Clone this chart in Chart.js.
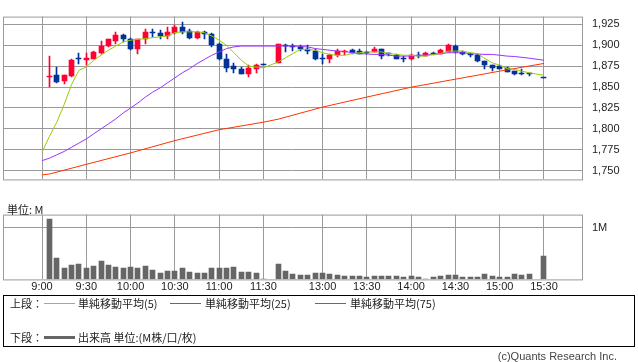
<!DOCTYPE html>
<html lang="ja">
<head>
<meta charset="utf-8">
<title>5分足チャート</title>
<script src="https://cdn.jsdelivr.net/npm/chart.js@4.4.1/dist/chart.umd.min.js"></script>
<style>
  html, body { margin: 0; padding: 0; background: #fff; }
  body { width: 638px; height: 362px; position: relative; overflow: hidden;
         font-family: "Noto Sans CJK JP", "Liberation Sans", sans-serif; font-size: 11px; color: #222; }
  #priceWrap { position: absolute; left: 0; top: 0; width: 638px; height: 196px; }
  #volumeWrap { position: absolute; left: 0; top: 198px; width: 638px; height: 98px; }
  .abs { position: absolute; white-space: nowrap; line-height: 13px; }
  .sample { position: absolute; width: 31px; }
  #legend { position: absolute; left: 3px; top: 295px; width: 630px; height: 50px; border: 1px solid #000; }
</style>
</head>
<body>
<div id="priceWrap"><canvas id="priceChart" width="638" height="196"></canvas></div>
<div id="volumeWrap"><canvas id="volumeChart" width="638" height="98"></canvas></div>
<div class="abs" style="left:7px; top:203px;">単位: M</div>

<div id="legend"></div>
<div class="abs" style="left:10px; top:297px;">上段：</div>
<div class="sample" style="left:44px; top:303px; border-top:1px solid #99cc00;"></div>
<div class="abs" style="left:78px; top:297px;">単純移動平均(5)</div>
<div class="sample" style="left:170px; top:303px; border-top:1px solid #9933ff;"></div>
<div class="abs" style="left:205px; top:297px;">単純移動平均(25)</div>
<div class="sample" style="left:315px; top:303px; border-top:1px solid #ff3300;"></div>
<div class="abs" style="left:350px; top:297px;">単純移動平均(75)</div>
<div class="abs" style="left:10px; top:331px;">下段：</div>
<div class="sample" style="left:44px; top:336px; border-top:3px solid #666;"></div>
<div class="abs" style="left:78px; top:331px;">出来高 単位:(M株/口/枚)</div>
<div class="abs" style="right:21px; top:350px; font-family:'Liberation Sans', Arial, sans-serif; color:#444;">(c)Quants Research Inc.</div>

<script>
// 5分足の時刻 (前場 9:05-11:30, 後場 12:30-15:20, 15:30)
const barTimes = [
  "9:05", "9:10", "9:15", "9:20", "9:25", "9:30", "9:35", "9:40", "9:45", "9:50",
  "9:55", "10:00", "10:05", "10:10", "10:15", "10:20", "10:25", "10:30", "10:35", "10:40",
  "10:45", "10:50", "10:55", "11:00", "11:05", "11:10", "11:15", "11:20", "11:25", "11:30",
  "12:30", "12:35", "12:40", "12:45", "12:50", "12:55", "13:00", "13:05", "13:10", "13:15",
  "13:20", "13:25", "13:30", "13:35", "13:40", "13:45", "13:50", "13:55", "14:00", "14:05",
  "14:10", "14:15", "14:20", "14:25", "14:30", "14:35", "14:40", "14:45", "14:50", "14:55",
  "15:00", "15:05", "15:10", "15:15", "15:20", "15:30",
];

const openPrices = [
  1862, 1864, 1857, 1863, 1884, 1882, 1884, 1891, 1899, 1905,
  1912, 1908, 1896, 1907, 1916, 1915, 1911, 1915, 1922, 1917,
  1909, 1916, 1913, 1902, 1884, 1875, 1871, 1865, 1872, 1877,
  1879, 1900, 1899, 1898, 1896, 1893, 1884, 1883, 1888, 1892,
  1894, 1893, 1892, 1892, 1895, 1890, 1888, 1885, 1883, 1888,
  1887, 1891, 1890, 1892, 1899, 1892, 1890, 1888, 1881, 1876,
  1875, 1873, 1869, 1866, 1866, 1861,
];
const highPrices = [
  1887, 1874, 1864, 1884, 1891, 1891, 1893, 1905, 1907, 1916,
  1913, 1909, 1907, 1919, 1919, 1918, 1922, 1924, 1928, 1919,
  1917, 1917, 1914, 1903, 1889, 1879, 1874, 1876, 1877, 1877,
  1902, 1902, 1901, 1900, 1900, 1895, 1890, 1889, 1895, 1894,
  1895, 1895, 1893, 1898, 1895, 1891, 1890, 1887, 1889, 1892,
  1892, 1892, 1896, 1901, 1900, 1893, 1891, 1889, 1881, 1876,
  1876, 1874, 1869, 1871, 1867, 1861,
];
const lowPrices = [
  1850, 1855, 1854, 1862, 1877, 1876, 1883, 1890, 1898, 1902,
  1904, 1894, 1890, 1902, 1910, 1908, 1907, 1913, 1913, 1908,
  1907, 1908, 1898, 1882, 1868, 1867, 1865, 1862, 1867, 1876,
  1879, 1892, 1893, 1893, 1890, 1882, 1878, 1879, 1886, 1888,
  1890, 1890, 1890, 1892, 1884, 1887, 1883, 1880, 1882, 1885,
  1887, 1888, 1890, 1892, 1891, 1888, 1886, 1880, 1872, 1869,
  1871, 1868, 1864, 1864, 1863, 1861,
];
const closePrices = [
  1863, 1856, 1864, 1882, 1883, 1885, 1892, 1899, 1907, 1912,
  1907, 1896, 1907, 1916, 1914, 1911, 1916, 1922, 1916, 1909,
  1916, 1913, 1900, 1883, 1873, 1871, 1865, 1873, 1876, 1876,
  1901, 1899, 1898, 1895, 1893, 1884, 1883, 1888, 1893, 1893,
  1891, 1890, 1891, 1895, 1887, 1889, 1884, 1884, 1888, 1887,
  1891, 1890, 1894, 1900, 1892, 1890, 1888, 1881, 1876, 1873,
  1871, 1868, 1865, 1865, 1865, 1861,
];
// 出来高 (M株)
const volumes = [
  1.17, 0.415, 0.213, 0.277, 0.293, 0.229, 0.261, 0.356, 0.277, 0.239,
  0.213, 0.245, 0.229, 0.261, 0.175, 0.133, 0.16, 0.16, 0.213, 0.149,
  0.133, 0.117, 0.213, 0.229, 0.213, 0.239, 0.149, 0.149, 0.117, 0.01,
  0.308, 0.16, 0.096, 0.08, 0.08, 0.133, 0.122, 0.106, 0.08, 0.069,
  0.069, 0.069, 0.037, 0.069, 0.069, 0.069, 0.069, 0.053, 0.069, 0.053,
  0.016, 0.053, 0.069, 0.08, 0.08, 0.037, 0.037, 0.053, 0.096, 0.069,
  0.053, 0.053, 0.096, 0.08, 0.096, 0.452,
];

// 移動平均 (9:00 の点 + 各足)
const maTimes = ["9:00"].concat(barTimes);
const ma5Values = [
  1772, 1791, 1808, 1829, 1853, 1870, 1874, 1882, 1888, 1894,
  1899, 1904, 1906, 1907, 1908, 1909, 1910, 1911, 1915, 1916,
  1916, 1916, 1915, 1911, 1906, 1900, 1891, 1882, 1875, 1874,
  1873, 1880, 1885, 1890, 1895, 1895, 1894, 1891, 1889, 1888,
  1888, 1890, 1891, 1892, 1892, 1892, 1890, 1889, 1888, 1888,
  1887, 1887, 1889, 1890, 1893, 1893, 1893, 1891, 1890, 1884,
  1879, 1876, 1872, 1871, 1869, 1867, 1864,
];
const ma25Values = [
  1762, 1765, 1769, 1773, 1778, 1783, 1788, 1794, 1800, 1806,
  1812, 1819, 1825, 1831, 1838, 1844, 1849, 1855, 1861, 1867,
  1872, 1878, 1883, 1888, 1892, 1896, 1898, 1899, 1899, 1899,
  1899, 1899, 1899, 1899, 1898.5, 1898, 1896, 1895, 1894, 1893,
  1892.5, 1891, 1890, 1889.5, 1889, 1889, 1888, 1887, 1887, 1887,
  1888, 1888, 1889, 1890, 1891, 1891, 1891, 1890, 1889.5, 1889,
  1889, 1888, 1887, 1886.5, 1885.5, 1884.5, 1882,
];
const ma75Times = ["9:00", "9:05", "9:30", "10:00", "10:30", "11:00", "11:30", "12:30", "13:00", "13:30", "14:00", "14:30", "15:00", "15:30"];
const ma75Values = [1745, 1746, 1757.6, 1771.3, 1786, 1799, 1808, 1811.6, 1826, 1838, 1849.8, 1859.4, 1869, 1878.2];

// 軸目盛
const xTickLabels = ["9:00", "9:30", "10:00", "10:30", "11:00", "11:30", "13:00", "13:30", "14:00", "14:30", "15:00", "15:30"];
const priceTicks = [1750, 1775, 1800, 1825, 1850, 1875, 1900, 1925];
const volumeTicks = [1];

const UP_COLOR = "#ff0033";
const DOWN_COLOR = "#003399";
const GRID_COLOR = "#9a9a9a";

/**
 * 時刻 -> 横軸の位置 (5分 = 1、昼休みは2枠分に詰める)
 */
function slotOf(time) {
  const parts = time.split(":").map(Number);
  const min = parts[0] * 60 + parts[1] - 540;
  return min <= 150 ? min / 5 : 32 + (min - 210) / 5;
}

const X_MIN = -5.283;
const X_MAX = 73.148;

// 枠線
const framePlugin = {
  id: "frame",
  afterDraw(chart) {
    const a = chart.chartArea;
    const ctx = chart.ctx;
    ctx.save();
    ctx.strokeStyle = GRID_COLOR;
    ctx.lineWidth = 1;
    ctx.strokeRect(a.left + 0.5, a.top + 0.5, a.right - a.left, a.bottom - a.top);
    ctx.restore();
  },
};

// 棒をピクセル境界に合わせる (にじみ防止)
const snapPlugin = {
  id: "snap",
  beforeDatasetsDraw(chart) {
    chart.data.datasets.forEach((ds, i) => {
      const meta = chart.getDatasetMeta(i);
      if (meta.type !== "bar") return;
      meta.data.forEach((bar) => {
        bar.x = Math.floor(bar.x) + 0.5;
        bar.y = Math.round(bar.y);
        bar.base = Math.round(bar.base);
      });
    });
  },
};

function xScale(showLabels) {
  return {
    type: "linear",
    min: X_MIN,
    max: X_MAX,
    offset: false,
    afterBuildTicks: (scale) => {
      scale.ticks = xTickLabels.map((t) => ({ value: slotOf(t) }));
    },
    afterFit: (scale) => {
      scale.height = showLabels ? 16 : 0;
    },
    grid: { color: GRID_COLOR, offset: false, drawTicks: false },
    border: { display: false },
    ticks: {
      display: showLabels,
      autoSkip: false,
      maxRotation: 0,
      padding: 1,
      color: "#222",
      font: { size: 11 },
      callback: (value, index) => xTickLabels[index],
    },
  };
}

document.addEventListener("DOMContentLoaded", function () {
  Chart.defaults.font.family = "'Liberation Sans', Arial, sans-serif";
  Chart.defaults.font.size = 11;
  initializePriceChart();
  initializeVolumeChart();
});

/**
 * 上段: ローソク足 + 移動平均
 */
function initializePriceChart() {
  const canvas = document.getElementById("priceChart");
  const candleColors = barTimes.map((t, i) =>
    closePrices[i] > openPrices[i] ? UP_COLOR : DOWN_COLOR
  );

  new Chart(canvas, {
    type: "bar",
    data: {
      datasets: [
        {
          type: "line",
          data: maTimes.map((t, i) => ({ x: slotOf(t), y: ma5Values[i] })),
          borderColor: "#99cc00",
          borderWidth: 1,
          pointRadius: 0,
          tension: 0,
          order: 0,
        },
        {
          type: "line",
          data: maTimes.map((t, i) => ({ x: slotOf(t), y: ma25Values[i] })),
          borderColor: "#9933ff",
          borderWidth: 1,
          pointRadius: 0,
          tension: 0,
          order: 0,
        },
        {
          type: "line",
          data: ma75Times.map((t, i) => ({ x: slotOf(t), y: ma75Values[i] })),
          borderColor: "#ff3300",
          borderWidth: 1,
          pointRadius: 0,
          tension: 0,
          order: 0,
        },
        {
          // ひげ
          data: barTimes.map((t, i) => ({ x: slotOf(t), y: [lowPrices[i], highPrices[i]] })),
          backgroundColor: candleColors,
          barThickness: 1,
          grouped: false,
          order: 2,
        },
        {
          // 実体
          data: barTimes.map((t, i) => ({ x: slotOf(t), y: [openPrices[i], closePrices[i]] })),
          backgroundColor: candleColors,
          barThickness: 5,
          minBarLength: 1,
          grouped: false,
          order: 1,
        },
      ],
    },
    options: {
      responsive: false,
      animation: false,
      layout: { padding: { left: 3, top: 0, right: 0, bottom: 6 } },
      plugins: { legend: { display: false }, tooltip: { enabled: false } },
      scales: {
        x: xScale(false),
        y: {
          type: "linear",
          position: "right",
          min: 1739.6,
          max: 1934.2,
          afterBuildTicks: (scale) => {
            scale.ticks = priceTicks.map((v) => ({ value: v }));
          },
          afterFit: (scale) => {
            scale.width = 56;
          },
          grid: { color: GRID_COLOR, drawTicks: false },
          border: { display: false },
          ticks: {
            padding: 10,
            color: "#222",
            font: { size: 11 },
            callback: (value) => value.toLocaleString("en-US"),
          },
        },
      },
    },
    plugins: [snapPlugin, framePlugin],
  });
}

/**
 * 下段: 出来高
 */
function initializeVolumeChart() {
  const canvas = document.getElementById("volumeChart");

  new Chart(canvas, {
    type: "bar",
    data: {
      datasets: [
        {
          data: barTimes.map((t, i) => ({ x: slotOf(t), y: volumes[i] })),
          backgroundColor: "#666666",
          barThickness: 5,
          grouped: false,
        },
      ],
    },
    options: {
      responsive: false,
      animation: false,
      layout: { padding: { left: 3, top: 3, right: 0, bottom: 0 } },
      plugins: { legend: { display: false }, tooltip: { enabled: false } },
      scales: {
        x: xScale(true),
        y: {
          type: "linear",
          position: "right",
          min: 0,
          max: 1.26,
          afterBuildTicks: (scale) => {
            scale.ticks = volumeTicks.map((v) => ({ value: v }));
          },
          afterFit: (scale) => {
            scale.width = 56;
          },
          grid: { color: GRID_COLOR, drawTicks: false },
          border: { display: false },
          ticks: {
            padding: 10,
            color: "#222",
            font: { size: 11 },
            callback: (value) => value + "M",
          },
        },
      },
    },
    plugins: [snapPlugin, framePlugin],
  });
}
</script>
</body>
</html>
